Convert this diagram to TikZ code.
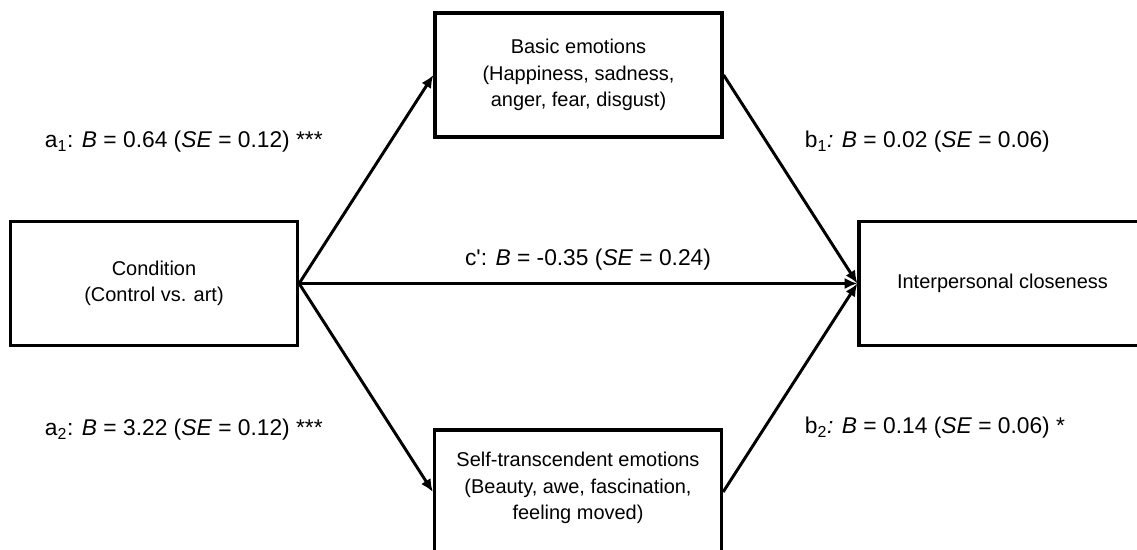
\documentclass[tikz,border=0pt]{standalone}
\usepackage{fontspec}
\setmainfont{Liberation Sans}
\usetikzlibrary{arrows.meta}

\begin{document}
\begin{tikzpicture}[
  box/.style={draw, line width=2.3pt, minimum width=7.175cm, minimum height=3.1cm,
    align=center, font=\fontsize{14.2}{18.8}\selectfont},
  effect/.style={-{Latex[length=0.32cm, width=0.28cm]}, line width=2.1pt},
  coef/.style={font=\fontsize{16.2}{19}\selectfont}]

  \useasboundingbox (0, 0) rectangle (28.425, -13.75);

  % X -- condition, left
  \node[box] (cond) at (3.85, -7.0875) {Condition\\(Control vs. art)};

  % M1 -- basic emotions, top
  \node[box] (basic) at (14.4625, -1.875)
    {Basic emotions\\(Happiness, sadness,\\anger, fear, disgust)};

  % M2 -- self-transcendent emotions, bottom (runs off the page)
  \node[box, text depth=0.3cm] (selftr) at (14.45, -12.3)
    {Self-transcendent emotions\\(Beauty, awe, fascination,\\feeling moved)};

  % Y -- outcome, right (runs off the page)
  \node[box] (close) at (25.0625, -7.0875) {Interpersonal closeness};

  % a paths
  \draw[effect] (cond.east) -- (basic.west);
  \draw[effect] (cond.east) -- (selftr.west);

  % b paths
  \draw[effect] (basic.east) -- (close.west);
  \draw[effect] (selftr.east) -- (close.west);

  % direct effect
  \draw[effect] (cond.east) -- (close.west);

  % Coefficients
  \node[coef, anchor=west] (alab1) at (1.0, -3.55)
    {a\textsubscript{1}: \textit{B} = 0.64 (\textit{SE} = 0.12) ***};
  \node[coef, anchor=west] (alab2) at (1.0, -10.75)
    {a\textsubscript{2}: \textit{B} = 3.22 (\textit{SE} = 0.12) ***};
  \node[coef, anchor=west] (blab1) at (20.0, -3.55)
    {b\textsubscript{1}\textit{:} \textit{B} = 0.02 (\textit{SE} = 0.06)};
  \node[coef, anchor=west] (blab2) at (20.0, -10.7)
    {b\textsubscript{2}\textit{:} \textit{B} = 0.14 (\textit{SE} = 0.06) *};
  \node[coef] (clab) at (14.7, -6.5)
    {c\textquotesingle: \textit{B} = -0.35 (\textit{SE} = 0.24)};

\end{tikzpicture}
\end{document}
